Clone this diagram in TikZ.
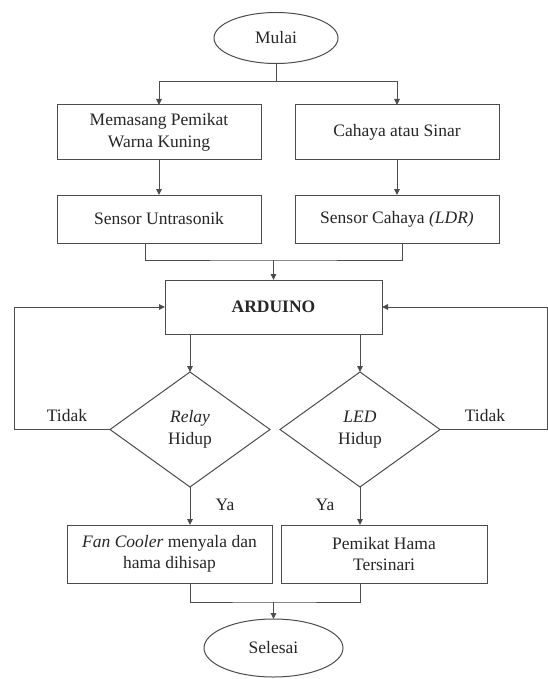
\documentclass[tikz,border=0pt]{standalone}
\usepackage{fontspec}
\setmainfont{Liberation Serif}
\usetikzlibrary{shapes.geometric,arrows.meta}
\begin{document}
\begin{tikzpicture}[x=1pt,y=-1pt,
  every node/.style={font=\fontsize{17.5}{21.5}\selectfont, text=black!85},
  line/.style={draw=black!70, line width=1pt},
  arr/.style={line, -{Triangle[length=6pt,width=5.5pt]}},
  procbox/.style={line, rectangle, align=center, inner sep=2pt, outer sep=0pt},
  term/.style={line, ellipse, inner sep=0pt, outer sep=0pt},
  decis/.style={line, diamond, align=center, inner sep=0pt, outer sep=0pt},
  lbl/.style={inner sep=0pt}]
\useasboundingbox (0,0) rectangle (548,679);
\fill[white] (0,0) rectangle (548,679);

\node[term, minimum width=124pt, minimum height=51pt] (mulai) at (276,38) {Mulai};
\node[procbox, minimum width=204pt, minimum height=55pt] (b1) at (159,132.5) {Memasang Pemikat\\Warna Kuning};
\node[procbox, minimum width=204pt, minimum height=55pt] (b2) at (397,132.5) {Cahaya atau Sinar};
\node[procbox, minimum width=204pt, minimum height=48pt] (b3) at (159,219) {Sensor Untrasonik};
\node[procbox, minimum width=204pt, minimum height=48pt] (b4) at (397,219) {Sensor Cahaya \textit{(LDR)}};
\node[procbox, minimum width=217pt, minimum height=54pt] (ard) at (273.5,307) {\textbf{ARDUINO}};
\node[decis, minimum width=160pt, minimum height=115pt] (d1) at (190,429.5) {\textit{Relay}\\Hidup};
\node[decis, minimum width=160pt, minimum height=115pt] (d2) at (360,429.5) {\textit{LED}\\Hidup};
\node[procbox, minimum width=205pt, minimum height=58pt] (b5) at (169.5,554) {\textit{Fan Cooler} menyala dan\\hama dihisap};
\node[procbox, minimum width=206pt, minimum height=58pt] (b6) at (384,554) {Pemikat Hama\\Tersinari};
\node[term, minimum width=139pt, minimum height=58pt] (sel) at (273.5,648) {Selesai};

\coordinate (j1) at (276,82);
\coordinate (j2) at (273.5,260);
\coordinate (j3) at (273.5,602);
\coordinate (cl) at (14,429.5);
\coordinate (cr) at (547,429.5);

\draw[line] (mulai.south) -- (j1);
\draw[arr] (j1) -| (b1.north);
\draw[arr] (j1) -| (b2.north);
\draw[arr] (b1) -- (b3);
\draw[arr] (b2) -- (b4);
\draw[line] ([xshift=-14pt]b3.south) |- (j2) -| ([xshift=5pt]b4.south);
\draw[arr] (j2) -- (ard.north);
\draw[arr] (ard.south -| d1.north) -- (d1.north);
\draw[arr] (ard.south -| d2.north) -- (d2.north);
\draw[arr] (d1.west) -- (cl) |- (ard.west);
\draw[arr] (d2.east) -- (cr) |- (ard.east);
\draw[arr] (d1.south) -- (d1.south |- b5.north);
\draw[arr] (d2.south) -- (d2.south |- b6.north);
\draw[line] (b5.south -| d1.south) |- (j3) -| (b6.south -| d2.south);
\draw[arr] (j3) -- (sel.north);

\node[lbl] (t1) at (67,416) {Tidak};
\node[lbl] (t2) at (485,416) {Tidak};
\node[lbl] (y1) at (225,505) {Ya};
\node[lbl] (y2) at (325,505) {Ya};
\end{tikzpicture}
\end{document}
